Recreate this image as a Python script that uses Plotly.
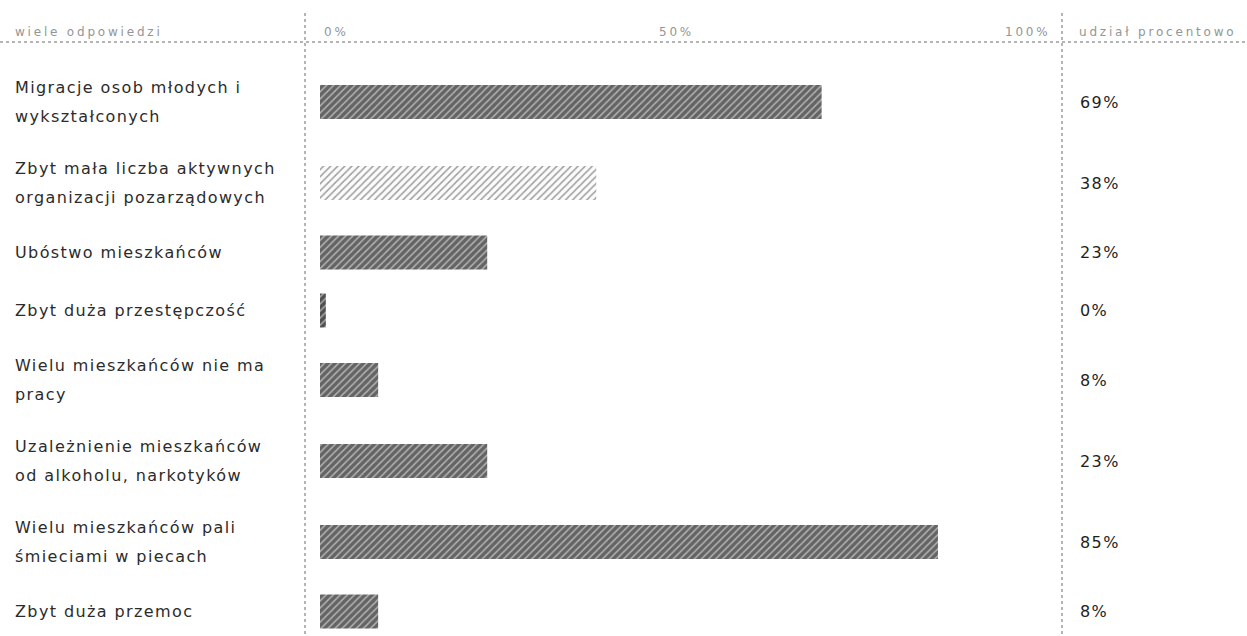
import plotly.graph_objects as go

categories = [
    "Migracje osob młodych i<br>wykształconych",
    "Zbyt mała liczba aktywnych<br>organizacji pozarządowych",
    "Ubóstwo mieszkańców",
    "Zbyt duża przestępczość",
    "Wielu mieszkańców nie ma<br>pracy",
    "Uzależnienie mieszkańców<br>od alkoholu, narkotyków",
    "Wielu mieszkańców pali<br>śmieciami w piecach",
    "Zbyt duża przemoc",
]
values = [69, 38, 23, 0.8, 8, 23, 85, 8]
value_labels = ["69%", "38%", "23%", "0%", "8%", "23%", "85%", "8%"]
header_labels = ["wiele odpowiedzi", "0%", "50%", "100%", "udział procentowo"]

W, H = 1247, 636
ML, MR = 320, 200
PW = W - ML - MR

def px_x(x):
    return (x - ML) / PW

# table-like layout: row height depends on the number of label lines
ROW_H = {1: 58, 2: 81}
TABLE_TOP = 61.5
centers = []
cur = TABLE_TOP
for lab in categories:
    h = ROW_H[len(lab.split("<br>"))]
    centers.append(cur + h / 2)
    cur += h

bar_colors = ["#646464", "#fbfbfb", "#646464", "#505050", "#646464", "#646464", "#646464", "#646464"]
pattern_fg = ["#303030", "#d6d6d6", "#303030", "#303030", "#303030", "#303030", "#303030", "#303030"]

fig = go.Figure()
fig.add_trace(go.Bar(
    x=values, y=centers, orientation="h", width=34,
    marker=dict(color=bar_colors, line=dict(width=0),
                pattern=dict(shape="/", fgcolor=pattern_fg, size=5, solidity=0.3)),
    hoverinfo="skip",
))

label_font = dict(family="DejaVu Sans", size=16, color="#2b2b2b")
value_font = dict(family="DejaVu Sans", size=16, color="#1e1e1e")
ann = []
for i, lab in enumerate(categories):
    lines = lab.split("<br>")
    n = len(lines)
    for k, ln in enumerate(lines):
        shift = (n - 1) * 14.5 - k * 29
        ann.append(dict(x=px_x(13), y=centers[i], xref="paper", yref="y", text=ln, showarrow=False,
                        xanchor="left", yanchor="middle", yshift=shift, font=label_font))
    ann.append(dict(x=px_x(1078), y=centers[i], xref="paper", yref="y", text=value_labels[i],
                    showarrow=False, xanchor="left", yanchor="middle", font=value_font))

hdr_font = dict(family="DejaVu Sans", size=12, color="#959595")
hdr_x = [13, 322, 657, 1003, 1077]
for txt, hx in zip(header_labels, hdr_x):
    ann.append(dict(x=px_x(hx), y=32, xref="paper", yref="y", text=txt, showarrow=False,
                    xanchor="left", yanchor="middle", font=hdr_font))

line_style = dict(color="#6a6a6a", width=1, dash="dot")
shapes = [
    dict(type="line", xref="paper", yref="y", x0=px_x(0), x1=px_x(W), y0=42, y1=42, line=line_style),
    dict(type="line", xref="paper", yref="y", x0=px_x(305), x1=px_x(305), y0=13, y1=H, line=line_style),
    dict(type="line", xref="paper", yref="y", x0=px_x(1062), x1=px_x(1062), y0=13, y1=H, line=line_style),
]

fig.update_layout(
    width=W, height=H,
    margin=dict(l=ML, r=MR, t=0, b=0),
    paper_bgcolor="white", plot_bgcolor="white",
    showlegend=False,
    xaxis=dict(range=[0, 100], visible=False, fixedrange=True),
    yaxis=dict(range=[H, 0], visible=False, fixedrange=True),
    annotations=ann, shapes=shapes,
)

post = (
    "document.body.style.margin='0';"
    "document.querySelectorAll('.annotation-text').forEach(function(t){"
    "var fs=parseFloat(t.style.fontSize);"
    "var b0=t.getBBox().x;"
    "t.style.letterSpacing = fs<14 ? '2.8px' : '1.4px';"
    "var b1=t.getBBox().x;"
    "var x=parseFloat(t.getAttribute('x')||'0');"
    "t.setAttribute('x', x+(b0-b1));"
    "});"
)
fig.write_html("out.html", post_script=post, config={"displayModeBar": False})
